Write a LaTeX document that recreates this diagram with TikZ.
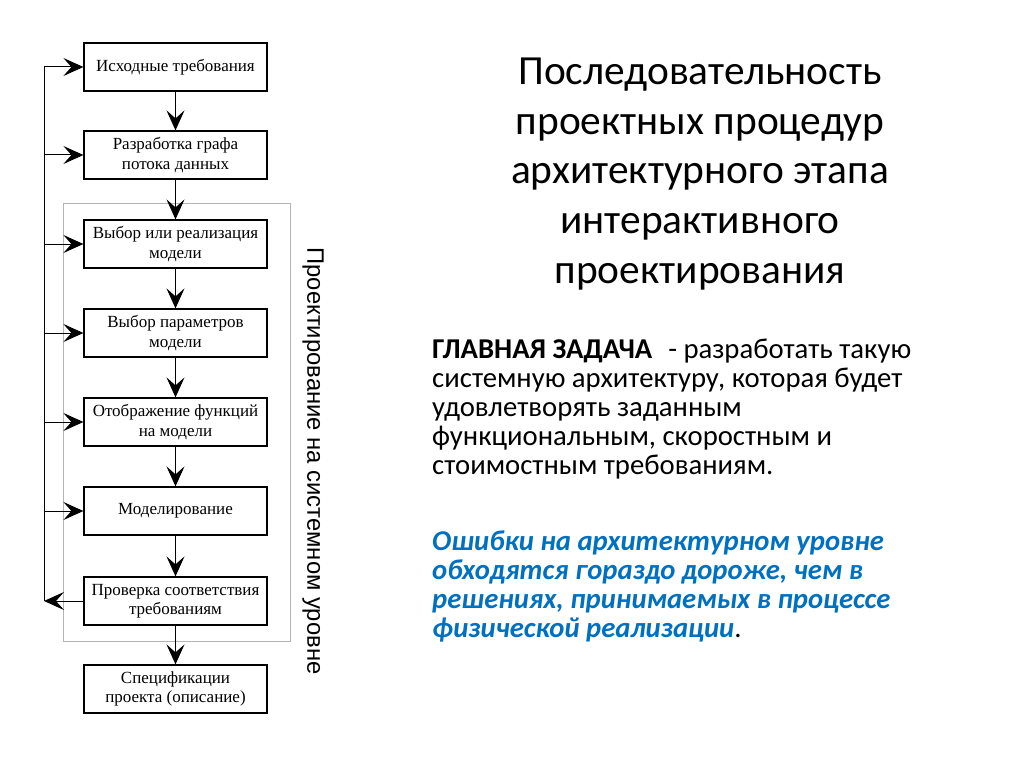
\documentclass[tikz,border=0pt]{standalone}
\usepackage{fontspec}
\setmainfont{Liberation Serif}
\newfontfamily\calibri{Carlito}
\newfontfamily\arialfont{Liberation Sans}
\usetikzlibrary{arrows.meta}
\definecolor{errblue}{HTML}{0070C0}
\definecolor{framegray}{HTML}{B4B4B4}
\tikzset{
  stagebox/.style={draw, line width=1.2pt, minimum width=183pt, minimum height=48pt,
    align=center, font=\fontsize{17}{19.5}\selectfont, inner sep=2pt},
  arr/.style={line width=1pt, -{Stealth[length=20pt,width=18pt,inset=8pt]}}
}
\begin{document}
\begin{tikzpicture}[x=1pt,y=-1pt]
  \useasboundingbox (0,0) rectangle (1024,767);
  % frame of system level stages
  \draw[framegray, line width=1pt] (63,204) rectangle (290,641);
  % stages
  \node[stagebox] (b1) at (175.5,67) {Исходные требования};
  \node[stagebox] (b2) at (175.5,155) {Разработка графа\\потока данных};
  \node[stagebox] (b3) at (175.5,244) {Выбор или реализация\\модели};
  \node[stagebox] (b4) at (175.5,333) {Выбор параметров\\модели};
  \node[stagebox] (b5) at (175.5,422) {Отображение функций\\на модели};
  \node[stagebox] (b6) at (175.5,511) {Моделирование};
  \node[stagebox] (b7) at (175.5,601) {Проверка соответствия\\требованиям};
  \node[stagebox] (b8) at (175.5,689) {Спецификации\\проекта (описание)};
  \draw[arr] (b1) -- (b2);
  \draw[arr] (b2) -- (b3);
  \draw[arr] (b3) -- (b4);
  \draw[arr] (b4) -- (b5);
  \draw[arr] (b5) -- (b6);
  \draw[arr] (b6) -- (b7);
  \draw[arr] (b7) -- (b8);
  % feedback line
  \coordinate (ftop) at (44,67);
  \coordinate (fbot) at (44,601);
  \draw[line width=1pt] (ftop) -- (fbot);
  \draw[arr] (b7.west) -- (fbot);
  \draw[arr] (ftop) -- (b1.west);
  \draw[arr] (b2.west -| ftop) -- (b2.west);
  \draw[arr] (b3.west -| ftop) -- (b3.west);
  \draw[arr] (b4.west -| ftop) -- (b4.west);
  \draw[arr] (b5.west -| ftop) -- (b5.west);
  \draw[arr] (b6.west -| ftop) -- (b6.west);
  % side label
  \node[rotate=-90, font=\arialfont\fontsize{23.8}{26}\selectfont] (side) at (313,461)
    {Проектирование на системном уровне};
  % title
  \node[align=center, font=\calibri\fontsize{41.4}{49.6}\selectfont] (title) at (700,174)
    {Последовательность\\проектных процедур\\архитектурного этапа\\интерактивного\\проектирования};
  % main task
  \node[anchor=north west, align=left, inner sep=0pt,
    font=\calibri\fontsize{28.7}{29}\selectfont] (task) at (432,339)
    {\textbf{ГЛАВНАЯ ЗАДАЧА}\hspace{16pt}- разработать такую\\системную архитектуру, которая будет\\удовлетворять заданным\\функциональным, скоростным и\\стоимостным требованиям.};
  \node[anchor=north west, align=left, inner sep=0pt, text=errblue,
    font=\calibri\bfseries\itshape\fontsize{28.7}{29}\selectfont] (errors) at (432,531)
    {Ошибки на архитектурном уровне\\обходятся гораздо дороже, чем в\\решениях, принимаемых в процессе\\физической реализации\color{black}\upshape\mdseries.};
\end{tikzpicture}
\end{document}
